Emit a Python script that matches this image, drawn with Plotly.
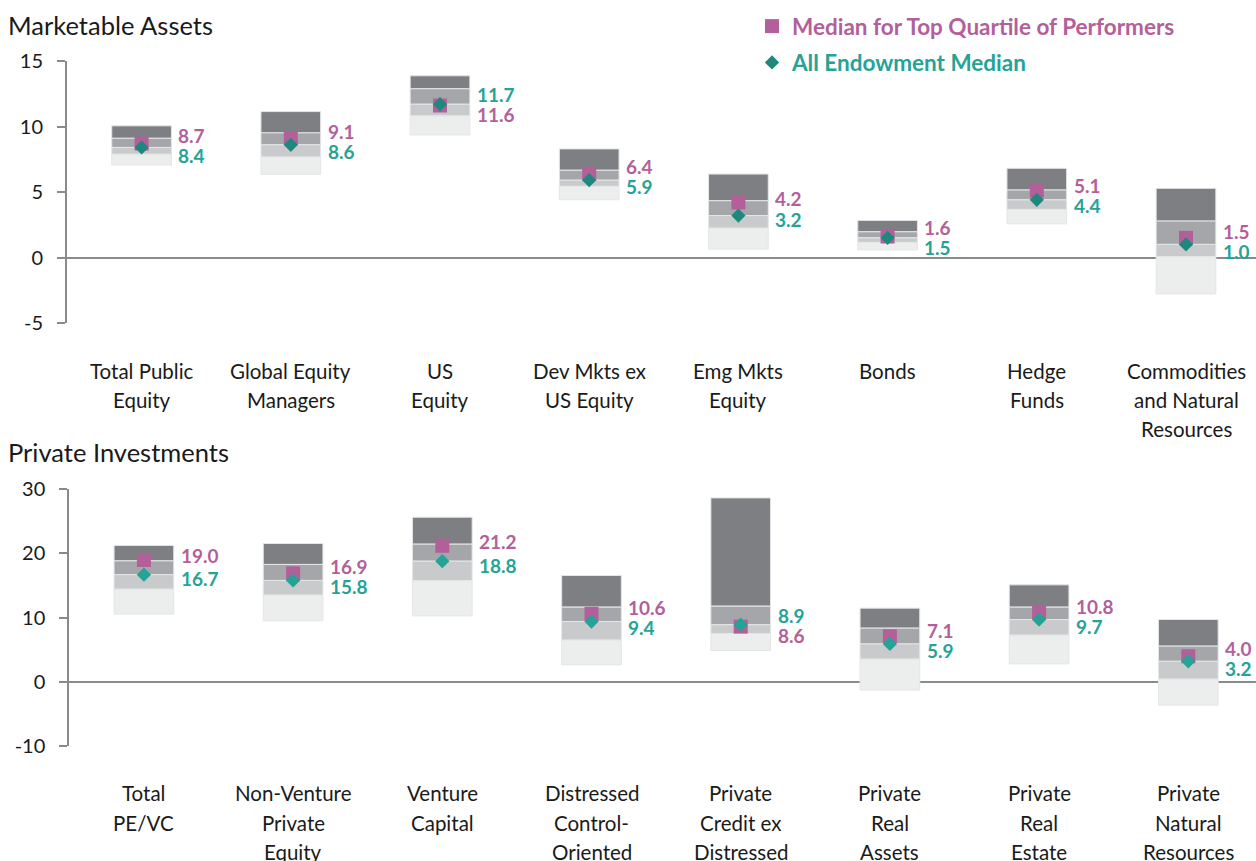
import plotly.graph_objects as go

# ---------------- data ----------------
cats_top = ["Total Public<br>Equity", "Global Equity<br>Managers", "US<br>Equity",
            "Dev Mkts ex<br>US Equity", "Emg Mkts<br>Equity", "Bonds",
            "Hedge<br>Funds", "Commodities<br>and Natural<br>Resources"]
top_p05 = [10.05, 11.14, 13.87, 8.29, 6.37, 2.83, 6.81, 5.28]
top_p25 = [9.10, 9.51, 12.88, 6.66, 4.33, 1.96, 5.15, 2.78]
top_p75 = [7.88, 7.67, 10.81, 5.43, 2.24, 1.15, 3.67, 0.05]
top_p95 = [7.06, 6.35, 9.36, 4.41, 0.64, 0.58, 2.57, -2.78]
top_quartile_top = [8.7, 9.1, 11.6, 6.4, 4.2, 1.6, 5.1, 1.5]
all_median_top = [8.4, 8.6, 11.7, 5.9, 3.2, 1.5, 4.4, 1.0]

cats_bot = ["Total<br>PE/VC", "Non-Venture<br>Private<br>Equity", "Venture<br>Capital",
            "Distressed<br>Control-<br>Oriented", "Private<br>Credit ex<br>Distressed",
            "Private<br>Real<br>Assets", "Private<br>Real<br>Estate", "Private<br>Natural<br>Resources"]
bot_p05 = [21.25, 21.56, 25.65, 16.57, 28.66, 11.48, 15.11, 9.71]
bot_p25 = [18.85, 18.29, 21.45, 11.64, 11.79, 8.36, 11.64, 5.56]
bot_p75 = [14.44, 13.50, 15.79, 6.50, 7.53, 3.54, 7.27, 0.42]
bot_p95 = [10.55, 9.50, 10.28, 2.65, 4.89, -1.29, 2.80, -3.63]
top_quartile_bot = [19.0, 16.9, 21.2, 10.6, 8.6, 7.1, 10.8, 4.0]
all_median_bot = [16.7, 15.8, 18.8, 9.4, 8.9, 5.9, 9.7, 3.2]

yticks_top = [-5, 0, 5, 10, 15]
yticks_bot = [-10, 0, 10, 20, 30]

# ---------------- style ----------------
W, H = 1256, 861
FONT = "Lato"
BAND_COLORS = ["#7d7f83", "#a5a6a9", "#c9cacc", "#eceeed"]
PURPLE = "#b3609a"
TEAL_TXT = "#26a396"
TEAL_TOP = "#1f887e"
TEAL_BOT = "#25a396"
AXIS = "#8a8a8a"
TXT = "#1a1a1a"

fig = go.Figure()

panels = [
    dict(x="x", y="y", cats=cats_top, bands=[top_p05, top_p25, all_median_top, top_p75, top_p95],
         tq=top_quartile_top, med=all_median_top, teal=TEAL_TOP, legend=True,
         yr=[-5, 15], yd=[1 - 323 / H, 1 - 61 / H], xl=67, ticks=yticks_top,
         lab_y=[371, 400, 429], title="Marketable Assets", title_y=25),
    dict(x="x2", y="y2", cats=cats_bot, bands=[bot_p05, bot_p25, all_median_bot, bot_p75, bot_p95],
         tq=top_quartile_bot, med=all_median_bot, teal=TEAL_BOT, legend=False,
         yr=[-10, 30], yd=[1 - 746 / H, 1 - 489.3 / H], xl=69.3, ticks=yticks_bot,
         lab_y=[793, 823, 852], title="Private Investments", title_y=452),
]

BAR_W = 0.4
annotations = []
for pi, p in enumerate(panels):
    n = len(p["cats"])
    xs = list(range(n))
    bands = p["bands"]
    for k in range(4):
        upper, lower = bands[k], bands[k + 1]
        fig.add_trace(go.Bar(
            x=xs, y=[u - l for u, l in zip(upper, lower)], base=lower,
            width=BAR_W, marker=dict(color=BAND_COLORS[k], line=dict(color="#e4e5e6", width=1)),
            xaxis=p["x"], yaxis=p["y"], showlegend=False, hoverinfo="skip"))
    fig.add_trace(go.Scatter(
        x=xs, y=p["tq"], mode="markers", xaxis=p["x"], yaxis=p["y"],
        marker=dict(symbol="square", size=14, color=PURPLE),
        name="<b><span style='color:%s'>Median for Top Quartile of Performers</span></b>" % PURPLE,
        legendgroup="a", showlegend=p["legend"]))
    fig.add_trace(go.Scatter(
        x=xs, y=p["med"], mode="markers", xaxis=p["x"], yaxis=p["y"],
        marker=dict(symbol="diamond", size=11, color=p["teal"]),
        name="<b><span style='color:%s'>All Endowment Median</span></b>" % TEAL_TXT,
        legendgroup="b", showlegend=p["legend"]))

    # value labels
    ppu = (p["yd"][1] - p["yd"][0]) * H / (p["yr"][1] - p["yr"][0])
    for i in xs:
        a, b = p["tq"][i], p["med"][i]
        mid = (a + b) / 2
        half = max(10, abs(a - b) * ppu / 2 + 4)
        a_up = a >= b
        for v, col, up in [(a, PURPLE, a_up), (b, TEAL_TXT, not a_up)]:
            annotations.append(dict(
                x=i + BAR_W / 2, y=mid, xref=p["x"], yref=p["y"], text="<b>%.1f</b>" % v,
                showarrow=False, xanchor="left", yanchor="middle", xshift=5,
                yshift=half if up else -half,
                font=dict(family=FONT, size=19, color=col)))
    # category labels (line by line)
    for i, c in enumerate(p["cats"]):
        for li, line in enumerate(c.split("<br>")):
            annotations.append(dict(
                x=i, y=1 - p["lab_y"][li] / H, xref=p["x"], yref="paper", text=line,
                showarrow=False, xanchor="center", yanchor="middle",
                font=dict(family=FONT, size=20.5, color=TXT)))
    annotations.append(dict(
        x=6 / W, y=1 - p["title_y"] / H, xref="paper", yref="paper", text=p["title"],
        showarrow=False, xanchor="left", yanchor="middle",
        font=dict(family=FONT, size=25.5, color=TXT)))

    xr = (W - p["xl"]) / 149.2 - 0.5
    xkey = "xaxis" if p["x"] == "x" else "xaxis2"
    ykey = "yaxis" if p["y"] == "y" else "yaxis2"
    fig.layout[xkey] = dict(domain=[p["xl"] / W, 1], range=[-0.5, xr], showgrid=False,
                            showline=False, zeroline=False, showticklabels=False, ticks="",
                            anchor=p["y"], fixedrange=True)
    fig.layout[ykey] = dict(domain=p["yd"], range=p["yr"], tickvals=p["ticks"],
                            ticktext=[str(t) for t in p["ticks"]], showgrid=False,
                            showline=True, linecolor=AXIS, linewidth=2, ticks="outside",
                            ticklen=8, tickwidth=2, tickcolor=AXIS, zeroline=True,
                            zerolinecolor=AXIS, zerolinewidth=2, anchor=p["x"],
                            ticklabelstandoff=10,
                            tickfont=dict(family=FONT, size=20, color=TXT))

fig.update_layout(
    width=W, height=H, autosize=False, barmode="overlay",
    margin=dict(l=0, r=0, t=0, b=0, autoexpand=False), plot_bgcolor="white", paper_bgcolor="white",
    annotations=annotations,
    legend=dict(x=752 / W, y=1 - 5 / H, xanchor="left", yanchor="top",
                font=dict(family=FONT, size=22.5), tracegroupgap=4,
                bgcolor="rgba(0,0,0,0)", itemsizing="trace"),
    font=dict(family=FONT),
)

fig.write_html("out.html", config={"displayModeBar": False},
               post_script="document.body.style.margin='0';")
